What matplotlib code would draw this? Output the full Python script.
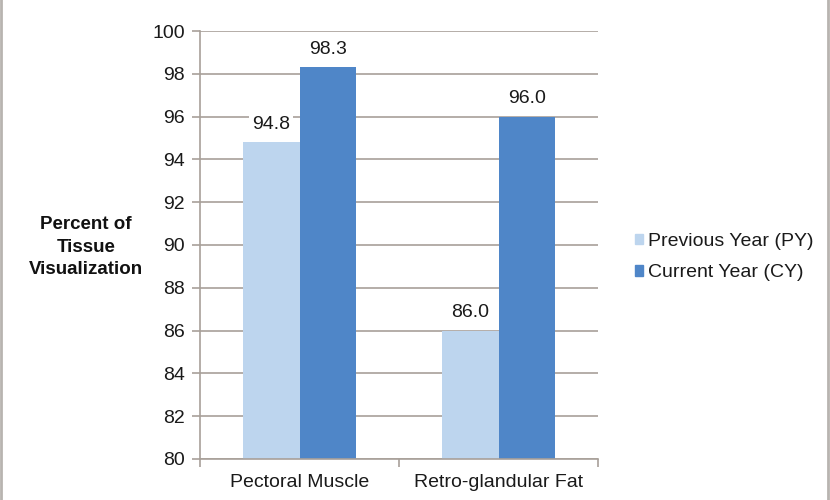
import matplotlib
matplotlib.use("Agg")
import matplotlib.pyplot as plt
import numpy as np
from matplotlib.lines import Line2D

plt.rcParams['font.family'] = ['Liberation Sans', 'DejaVu Sans']

categories = ["Pectoral Muscle", "Retro-glandular Fat"]
previous_year = [94.8, 86.0]
current_year = [98.3, 96.0]
series_names = ["Previous Year (PY)", "Current Year (CY)"]
y_ticks = [80, 82, 84, 86, 88, 90, 92, 94, 96, 98, 100]

py_color = "#bdd5ee"
cy_color = "#4f86c8"
grid_color = "#a8a099"
text_color = "#1a1a1a"
fs = 14

fig = plt.figure(figsize=(8.3, 5.0), dpi=100)
ax = fig.add_axes([200 / 830, 1 - 459 / 500, 398 / 830, 428 / 500])

x = np.arange(len(categories))
w = 0.285
bars_py = ax.bar(x - w / 2, previous_year, w, color=py_color, label=series_names[0], zorder=2)
bars_cy = ax.bar(x + w / 2, current_year, w, color=cy_color, label=series_names[1], zorder=2)

for bars, vals in ((bars_py, previous_year), (bars_cy, current_year)):
    for b, v in zip(bars, vals):
        ax.annotate(f"{v:.1f}", (b.get_x() + b.get_width() / 2, v),
                    xytext=(0, 18), textcoords="offset pixels",
                    ha="center", va="center", fontsize=fs, color=text_color, zorder=3,
                    bbox=dict(boxstyle="square,pad=0.15", fc="white", ec="none"))

ax.set_ylim(80, 100)
ax.set_xlim(-0.5, len(categories) - 0.5)
ax.set_yticks(y_ticks)
ax.set_yticklabels([str(t) for t in y_ticks], fontsize=fs, color=text_color)
ax.yaxis.grid(True, color=grid_color, linewidth=1.2, zorder=0)
ax.set_axisbelow(True)

# category labels centered, tick marks at category boundaries
ax.set_xticks(x)
ax.set_xticklabels(categories, fontsize=fs, color=text_color)
ax.tick_params(axis="x", length=0, pad=11)
ax.set_xticks(np.arange(-0.5, len(categories)), minor=True)
ax.tick_params(axis="x", which="minor", length=6, color=grid_color, width=1.2)
ax.tick_params(axis="y", length=6, color=grid_color, width=1.2, pad=5)

for s in ("top", "right"):
    ax.spines[s].set_visible(False)
for s in ("left", "bottom"):
    ax.spines[s].set_color(grid_color)
    ax.spines[s].set_linewidth(1.2)

fig.text(86 / 830, 1 - 247 / 500, "Percent of\nTissue\nVisualization",
         ha="center", va="center", fontsize=13.5, fontweight="bold",
         color="#111111", linespacing=1.45)

handles = [plt.Rectangle((0, 0), 1, 1, color=py_color),
           plt.Rectangle((0, 0), 1, 1, color=cy_color)]
fig.legend(handles, series_names, loc="center left",
           bbox_to_anchor=(617 / 830, 1 - 257 / 500), frameon=False,
           fontsize=fs, handlelength=0.45, handleheight=0.45,
           handletextpad=0.25, labelspacing=0.75, labelcolor=text_color)

# outer frame
for xs in (0.0015, 0.9975):
    fig.add_artist(Line2D([xs, xs], [0, 1], transform=fig.transFigure,
                          color="#b8b4b0", linewidth=2.0))

fig.savefig("out.png", dpi=100)
